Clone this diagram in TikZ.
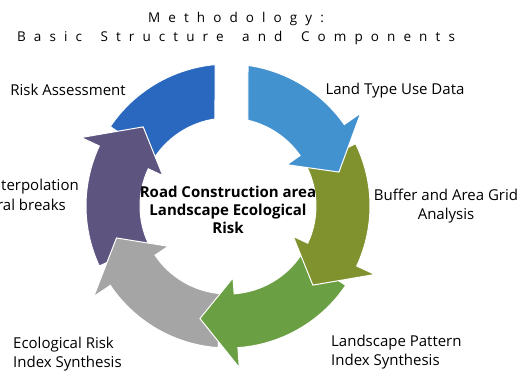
\documentclass[tikz,border=0pt]{standalone}
\usepackage{fontspec}
\setmainfont{Open Sans}
\newfontfamily\titlefont[LetterSpace=60, WordSpace=1.6]{Open Sans}

\definecolor{landblue}{RGB}{66,146,208}
\definecolor{gridolive}{RGB}{128,146,46}
\definecolor{patterngreen}{RGB}{106,160,67}
\definecolor{indexgrey}{RGB}{165,165,165}
\definecolor{interppurple}{RGB}{94,84,128}
\definecolor{assessblue}{RGB}{41,104,190}

% one piece of the ring: colour, start angle, angle where the head begins
\newcommand{\ringarrow}[3]{%
  \path[ringpiece=#1] (#2:142) arc[start angle=#2, end angle=#3, radius=142]
    -- (#3:162) -- ({#3-18}:116) -- (#3:72) -- (#3:88)
    arc[start angle=#3, end angle=#2, radius=88] -- cycle;}

\begin{document}
\begin{tikzpicture}[x=1pt,y=1pt,
    ringpiece/.style={fill=#1, draw=white, line width=1pt},
    stagetext/.style={font=\fontsize{15}{19}\selectfont, inner sep=0pt}]
  \useasboundingbox (-228,-165) rectangle (293,206);

  % top left piece has no head
  \path[ringpiece=assessblue] (146:142) arc[start angle=146, end angle=95.25, radius=142]
    -- (98.5:88) arc[start angle=98.5, end angle=146, radius=88] -- cycle;
  \foreach \col/\s/\b in {interppurple/-155/-205, indexgrey/-94/-146,
                          patterngreen/-34/-86, gridolive/26/-25}
    \ringarrow{\col}{\s}{\b};
  \path[ringpiece=landblue] (81.9:142) arc[start angle=81.9, end angle=35, radius=142]
    -- (35:162) -- (17:116) -- (35:72) -- (35:88)
    arc[start angle=35, end angle=76.9, radius=88] -- cycle;

  \node[align=center, inner sep=0pt, font=\fontsize{13.5}{19}\selectfont\titlefont] (title) at (8,178)
    {Methodology:\\Basic Structure and Components};
  \node[align=center, inner sep=0pt, font=\fontsize{15}{18}\selectfont\bfseries] (core) at (0,-4)
    {Road Construction area\\Landscape Ecological\\Risk};

  \node[stagetext] (landuse) at (167,115) {Land Type Use Data};
  \node[stagetext, align=center] (buffer) at (218,0) {Buffer and Area Grid\\Analysis};
  \node[stagetext, align=left, anchor=west] (pattern) at (103,-146) {Landscape Pattern\\Index Synthesis};
  \node[stagetext, align=left, anchor=west] (synthesis) at (-215,-148) {Ecological Risk\\Index Synthesis};
  \node[stagetext, anchor=east] (interp) at (-149,19) {terpolation};
  \node[stagetext, anchor=east] (breaks) at (-162,1) {ral breaks};
  \node[stagetext] (assess) at (-160,116) {Risk Assessment};
  % \draw[red] (0,0) circle (142);
\end{tikzpicture}
\end{document}
